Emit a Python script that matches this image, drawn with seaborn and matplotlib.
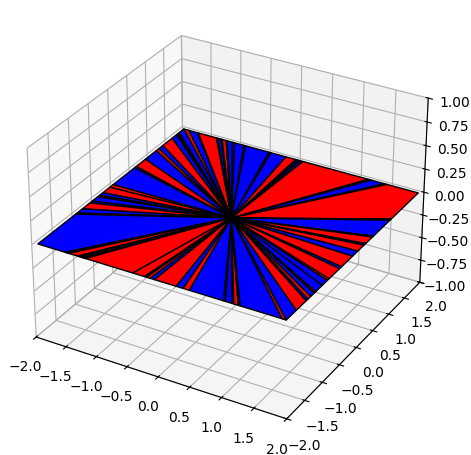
import matplotlib
matplotlib.use('Agg')
import matplotlib.pyplot as plt
from mpl_toolkits.mplot3d.art3d import Poly3DCollection
import seaborn as sns

# outer points of the wedges along each side of the square, centre is (0, 0, 0)
# r = red, b = blue
front_x = [-2, -1.54, -1.52, -1.48, -1.33, -1.30, -1.27, -1.24, -1.2, -0.42, -0.23, -0.2, -0.14, -0.07,
           0.28, 0.39, 0.49, 1.03, 1.06, 1.16, 1.19, 1.26, 1.29, 1.94, 2]
front_c = list('brbrbrbrrrbrbrbrbbbbrbbr')
right_y = [-2, -1.72, -1.44, -1.39, -1.31, -1.21, -1.17, -0.98, -0.83, -0.78, -0.47, -0.41, -0.08, 0.08,
           0.27, 0.32, 0.53, 0.56, 1.08, 1.12, 2]
right_c = list('brbrbrbbrrbrbrbrbbrr')
back_x = [2, 1.49, 1.45, 1.23, 1.18, 0.08, 0.03, 0.0, -0.04, -0.21, -0.47, -0.50, -0.91, -0.94, -1.1, -1.14,
          -1.23, -1.25, -1.32, -1.34, -1.40, -1.42, -1.74, -1.76, -1.91, -2]
back_c = list('rrbbrbbbrbbbbbbbrrbbrrbbr')
left_y = [2, 1.86, 1.82, 1.78, 1.65, 1.38, 1.27, 1.19, 0.88, 0.62, 0.57, -0.02, -0.11, -0.30, -0.39, -0.44,
          -0.59, -0.65, -0.85, -0.99, -1.03, -2]
left_c = list('brbbrbrbrbbrrbrbbrbbb')
shrink = 0.97  # the square stops a bit short of the axis limits

palette = dict(zip('rb', sns.color_palette(['red', 'blue'])))
edge = 2 * shrink

sides = [
    (front_x, front_c, lambda v: (v * shrink, -edge, 0)),
    (right_y, right_c, lambda v: (edge, v * shrink, 0)),
    (back_x, back_c, lambda v: (v * shrink, edge, 0)),
    (left_y, left_c, lambda v: (-edge, v * shrink, 0)),
]

# one list of outer points per wedge, a wedge going round a corner keeps the corner point
wedges = []
for values, colors, to_point in sides:
    for i in range(len(colors)):
        outer = [to_point(values[i]), to_point(values[i + 1])]
        if i == 0 and wedges and wedges[-1][0] == colors[i]:
            wedges[-1][1].append(outer[1])
        else:
            wedges.append((colors[i], outer))
# the last wedge runs into the first one at the left corner
if wedges[-1][0] == wedges[0][0]:
    wedges[0] = (wedges[0][0], wedges[-1][1] + wedges[0][1][1:])
    wedges.pop()

fig = plt.figure(figsize=(4.71, 4.56), dpi=100)
ax = fig.add_axes([2.5 / 471, 8 / 456, 446 / 471, 446 / 456], projection='3d')

verts = [[(0, 0, 0)] + outer for color, outer in wedges]
faces = [palette[color] for color, outer in wedges]
ax.add_collection3d(Poly3DCollection(verts, facecolors=faces, edgecolors='black', linewidths=1))

ax.set_xlim(-2, 2)
ax.set_ylim(-2, 2)
ax.set_zlim(-1, 1)

plt.savefig('out.png')
